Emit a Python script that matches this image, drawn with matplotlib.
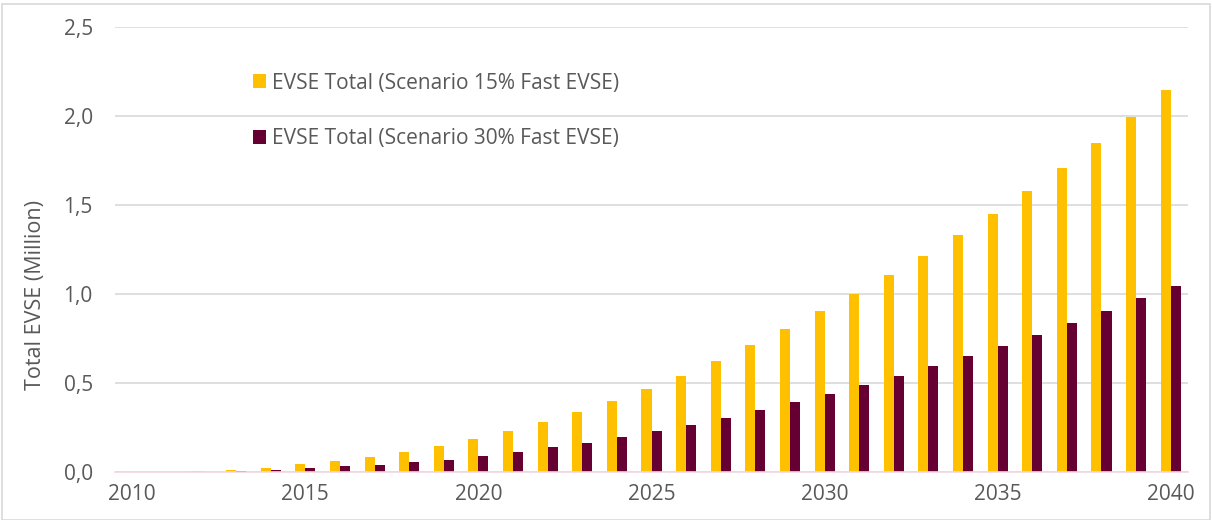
import matplotlib
matplotlib.use("Agg")
import matplotlib.pyplot as plt
from matplotlib.patches import Rectangle, Patch
import numpy as np

years = list(range(2010, 2041))
scenario_15 = [0.000, 0.001, 0.005, 0.012, 0.020, 0.043, 0.064, 0.083, 0.110, 0.144,
               0.184, 0.230, 0.281, 0.337, 0.400, 0.468, 0.541, 0.624, 0.712, 0.805,
               0.904, 1.002, 1.105, 1.213, 1.330, 1.449, 1.577, 1.708, 1.848, 1.993, 2.144]
scenario_30 = [0.000, 0.000, 0.001, 0.004, 0.010, 0.020, 0.031, 0.037, 0.054, 0.070,
               0.088, 0.110, 0.139, 0.163, 0.197, 0.230, 0.264, 0.305, 0.348, 0.395,
               0.441, 0.489, 0.539, 0.594, 0.650, 0.708, 0.770, 0.837, 0.903, 0.976, 1.047]
label_15 = "EVSE Total (Scenario 15% Fast EVSE)"
label_30 = "EVSE Total (Scenario 30% Fast EVSE)"
y_ticks = [0.0, 0.5, 1.0, 1.5, 2.0, 2.5]
y_ticklabels = ["0,0", "0,5", "1,0", "1,5", "2,0", "2,5"]
x_ticklabels = ["2010", "2015", "2020", "2025", "2030", "2035", "2040"]

plt.rcParams['font.family'] = ['Open Sans', 'DejaVu Sans']
text_color = '#595959'
c15 = '#FFC000'
c30 = '#660033'

W, H = 1212, 520
fig = plt.figure(figsize=(W / 100, H / 100), dpi=100)
ax = fig.add_axes([115 / W, 1 - 472 / H, (1188 - 115) / W, (472 - 27) / H])

x = np.arange(len(years))
bw = 0.29
ax.bar(x - bw / 2, scenario_15, width=bw, color=c15, label=label_15, zorder=3)
ax.bar(x + bw / 2, scenario_30, width=bw, color=c30, label=label_30, zorder=3)

ax.set_xlim(-0.5, len(years) - 0.5)
ax.set_ylim(0, 2.5)
ax.set_yticks(y_ticks)
ax.set_yticklabels(y_ticklabels, fontsize=15, color=text_color)
tick_pos = [years.index(int(t)) for t in x_ticklabels]
ax.set_xticks(tick_pos)
ax.set_xticklabels(x_ticklabels, fontsize=15, color=text_color)
ax.tick_params(axis='both', length=0)
ax.tick_params(axis='y', pad=16)
ax.tick_params(axis='x', pad=9)

ax.grid(axis='y', color='#d9d9d9', linewidth=1.2, zorder=0)
for s in ['top', 'right', 'left']:
    ax.spines[s].set_visible(False)
ax.spines['bottom'].set_color('#f2d6e0')
ax.spines['bottom'].set_linewidth(1.2)
ax.spines['bottom'].set_zorder(4)

fig.text(36 / W, 1 - 295 / H, "Total EVSE (Million)", rotation=90, fontsize=15.5,
         color=text_color, ha='center', va='center')

handles = [Patch(facecolor=c15), Patch(facecolor=c30)]
leg = fig.legend(handles, [label_15, label_30], loc='upper left',
                 bbox_to_anchor=(234 / W, 1 - 54 / H), frameon=False,
                 fontsize=15, handlelength=0.65, handleheight=0.65,
                 handletextpad=0.25, labelspacing=1.64, labelcolor=text_color)

fig.patches.append(Rectangle((2 / W, 0.0), 1 - 4 / W, 1 - 4 / H,
                             transform=fig.transFigure, fill=False,
                             edgecolor='#d9d9d9', linewidth=1.2))

fig.savefig("out.png", dpi=100)
